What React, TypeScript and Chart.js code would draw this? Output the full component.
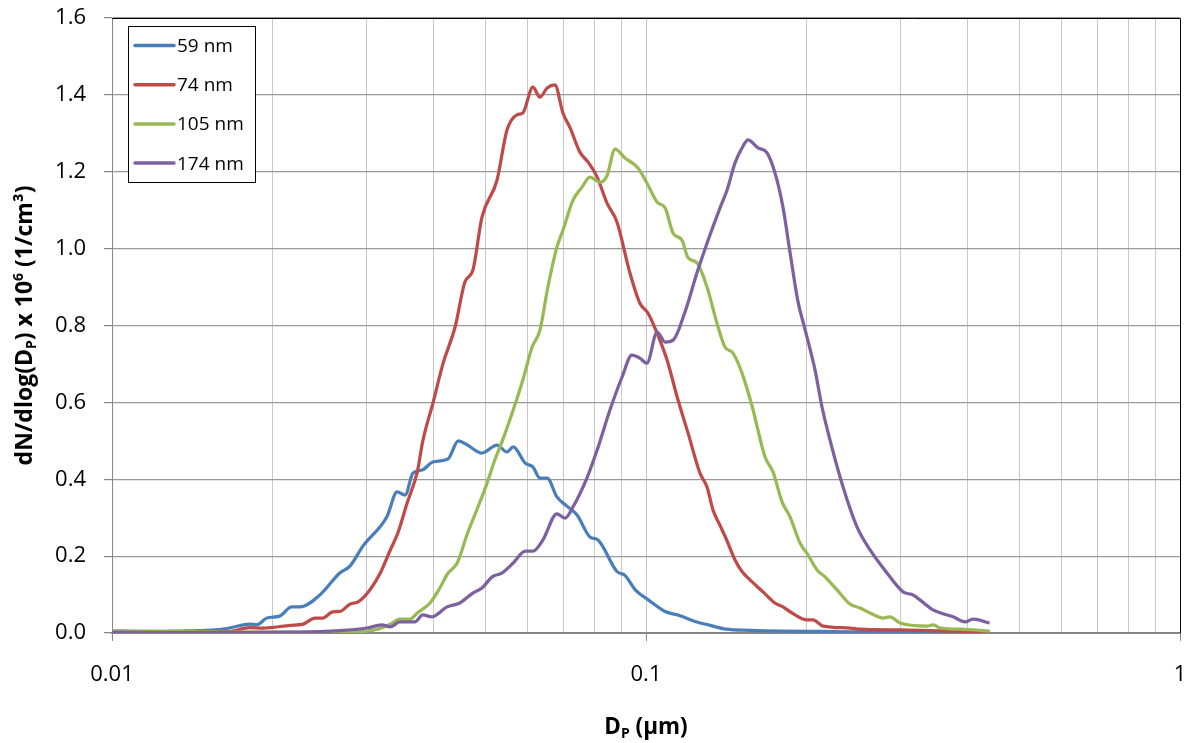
import React, { useEffect, useRef } from "react";
import { Chart, registerables } from "chart.js";

Chart.register(...registerables);

const FONT = "'Open Sans', 'Liberation Sans', sans-serif";

const seriesLabels = ["59 nm", "74 nm", "105 nm", "174 nm"];
const seriesColors = ["#4A7EBB", "#BE4B48", "#98B954", "#7D60A0"];

// Diameters in µm, concentrations dN/dlog(Dp) x 10^6 (1/cm³)
const diam59 = [0.0100, 0.0113, 0.0123, 0.0134, 0.0146, 0.0156, 0.0166, 0.0181, 0.0187, 0.0195, 0.0206, 0.0217, 0.0225, 0.0245, 0.0267, 0.0279, 0.0295, 0.0327, 0.0342, 0.0354, 0.0366, 0.0381, 0.0399, 0.0426, 0.0445, 0.0464, 0.0493, 0.0526, 0.0549, 0.0564, 0.0594, 0.0614, 0.0633, 0.0653, 0.0681, 0.0711, 0.0743, 0.0785, 0.0813, 0.0882, 0.0913, 0.0958, 0.1013, 0.1086, 0.1158, 0.1235, 0.1318, 0.1412, 0.1566, 0.1782, 0.2118, 0.2517, 0.299, 0.3554, 0.44];
const conc59 = [0.005, 0.004, 0.004, 0.005, 0.006, 0.008, 0.013, 0.023, 0.022, 0.039, 0.044, 0.068, 0.068, 0.099, 0.156, 0.174, 0.226, 0.302, 0.367, 0.359, 0.416, 0.424, 0.445, 0.453, 0.500, 0.488, 0.468, 0.489, 0.471, 0.484, 0.442, 0.432, 0.403, 0.403, 0.354, 0.330, 0.307, 0.250, 0.242, 0.160, 0.150, 0.110, 0.085, 0.056, 0.045, 0.030, 0.020, 0.010, 0.007, 0.005, 0.004, 0.003, 0.003, 0.002, 0.002];

const diam74 = [0.0100, 0.0118, 0.0140, 0.0166, 0.0181, 0.0192, 0.0216, 0.0228, 0.0240, 0.0248, 0.0259, 0.0267, 0.0279, 0.0289, 0.0304, 0.0318, 0.0332, 0.0343, 0.0357, 0.0373, 0.0382, 0.0399, 0.0417, 0.0439, 0.0458, 0.0474, 0.0493, 0.0526, 0.0549, 0.0573, 0.0588, 0.0614, 0.0633, 0.0653, 0.0675, 0.0699, 0.0721, 0.0752, 0.0779, 0.0810, 0.0845, 0.0882, 0.0933, 0.0974, 0.1009, 0.1049, 0.1095, 0.1148, 0.1199, 0.1262, 0.1301, 0.1335, 0.1376, 0.1418, 0.1468, 0.1513, 0.1566, 0.1656, 0.1744, 0.1805, 0.1877, 0.2002, 0.2055, 0.2146, 0.241, 0.2517, 0.299, 0.371, 0.44];
const conc74 = [0.002, 0.002, 0.003, 0.004, 0.014, 0.013, 0.020, 0.023, 0.039, 0.039, 0.055, 0.056, 0.075, 0.081, 0.112, 0.156, 0.216, 0.260, 0.338, 0.419, 0.500, 0.598, 0.702, 0.796, 0.913, 0.944, 1.082, 1.178, 1.308, 1.348, 1.353, 1.420, 1.394, 1.418, 1.426, 1.353, 1.314, 1.251, 1.225, 1.186, 1.119, 1.070, 0.937, 0.858, 0.832, 0.780, 0.710, 0.606, 0.520, 0.416, 0.380, 0.320, 0.280, 0.240, 0.190, 0.160, 0.138, 0.107, 0.078, 0.068, 0.052, 0.034, 0.034, 0.018, 0.013, 0.010, 0.008, 0.005, 0.003];

const diam105 = [0.0100, 0.0118, 0.0146, 0.0181, 0.0225, 0.0267, 0.0300, 0.0318, 0.0332, 0.0346, 0.0361, 0.0373, 0.0394, 0.0411, 0.0426, 0.0443, 0.0462, 0.0483, 0.0504, 0.0521, 0.0540, 0.0564, 0.0588, 0.0612, 0.0633, 0.0655, 0.0681, 0.0699, 0.0730, 0.0759, 0.0785, 0.0820, 0.0845, 0.0875, 0.0913, 0.0966, 0.1009, 0.1049, 0.1086, 0.1124, 0.1168, 0.1199, 0.1246, 0.1301, 0.1358, 0.1406, 0.1455, 0.1513, 0.1580, 0.1671, 0.1729, 0.1798, 0.1861, 0.1943, 0.2011, 0.2091, 0.2164, 0.2279, 0.241, 0.2517, 0.2628, 0.2779, 0.2864, 0.299, 0.336, 0.3448, 0.3554, 0.3874, 0.44];
const conc105 = [0.005, 0.004, 0.003, 0.002, 0.002, 0.003, 0.005, 0.012, 0.023, 0.036, 0.036, 0.052, 0.078, 0.117, 0.156, 0.182, 0.255, 0.323, 0.390, 0.450, 0.505, 0.580, 0.658, 0.744, 0.788, 0.900, 1.004, 1.048, 1.126, 1.160, 1.186, 1.173, 1.189, 1.259, 1.236, 1.210, 1.165, 1.121, 1.106, 1.040, 1.022, 0.976, 0.963, 0.900, 0.806, 0.744, 0.728, 0.676, 0.590, 0.458, 0.419, 0.341, 0.302, 0.234, 0.203, 0.164, 0.146, 0.112, 0.075, 0.065, 0.052, 0.039, 0.042, 0.026, 0.018, 0.021, 0.013, 0.010, 0.005];

const diam174 = [0.0100, 0.0146, 0.0225, 0.0267, 0.0300, 0.0320, 0.0332, 0.0346, 0.0369, 0.0382, 0.0397, 0.0424, 0.0448, 0.0474, 0.0493, 0.0515, 0.0537, 0.0564, 0.0594, 0.0614, 0.0641, 0.0681, 0.0705, 0.0730, 0.0775, 0.0810, 0.0856, 0.0902, 0.0941, 0.0974, 0.1004, 0.1049, 0.1086, 0.1124, 0.1183, 0.1246, 0.1301, 0.1376, 0.1418, 0.1468, 0.1520, 0.1552, 0.1621, 0.1685, 0.1744, 0.1805, 0.1861, 0.1926, 0.1985, 0.2073, 0.2136, 0.2211, 0.2339, 0.2484, 0.2628, 0.2827, 0.303, 0.3163, 0.3448, 0.3759, 0.3958, 0.4097, 0.44];
const conc174 = [0.002, 0.001, 0.002, 0.006, 0.013, 0.021, 0.016, 0.029, 0.029, 0.047, 0.042, 0.068, 0.078, 0.104, 0.117, 0.146, 0.156, 0.182, 0.213, 0.213, 0.242, 0.310, 0.299, 0.328, 0.403, 0.476, 0.580, 0.666, 0.723, 0.715, 0.702, 0.783, 0.757, 0.762, 0.835, 0.937, 1.014, 1.106, 1.152, 1.223, 1.267, 1.283, 1.262, 1.249, 1.197, 1.108, 0.990, 0.862, 0.790, 0.684, 0.588, 0.502, 0.380, 0.276, 0.216, 0.156, 0.107, 0.099, 0.060, 0.042, 0.029, 0.036, 0.026];

const seriesDiams = [diam59, diam74, diam105, diam174];
const seriesConcs = [conc59, conc74, conc105, conc174];

// Axis ticks
const xGridValues = [0.01, 0.02, 0.03, 0.04, 0.05, 0.06, 0.07, 0.08, 0.09, 0.1, 0.2, 0.3, 0.4, 0.5, 0.6, 0.7, 0.8, 0.9, 1];
const xMajorValues = [0.01, 0.1, 1];
const xMajorLabels = ["0.01", "0.1", "1"];
const yMin = 0;
const yMax = 1.6;
const yStep = 0.2;

type Seg = { text: string; shift?: "sub" | "sup" };
const yTitle: Seg[] = [
  { text: "dN/dlog(D" },
  { text: "P", shift: "sub" },
  { text: ") x 10" },
  { text: "6", shift: "sup" },
  { text: " (1/cm³)" },
];
const xTitle: Seg[] = [{ text: "D" }, { text: "P", shift: "sub" }, { text: " (µm)" }];

function drawRich(ctx: CanvasRenderingContext2D, segs: Seg[], cx: number, cy: number, rot: number, size: number) {
  ctx.save();
  ctx.translate(cx, cy);
  ctx.rotate(rot);
  const small = Math.round(size * 0.62);
  const widths = segs.map((s) => {
    ctx.font = `bold ${s.shift ? small : size}px ${FONT}`;
    return ctx.measureText(s.text).width;
  });
  const total = widths.reduce((a, b) => a + b, 0);
  let x = -total / 2;
  ctx.textAlign = "left";
  ctx.textBaseline = "alphabetic";
  ctx.fillStyle = "#000";
  const base = size * 0.36;
  segs.forEach((s, i) => {
    ctx.font = `bold ${s.shift ? small : size}px ${FONT}`;
    const dy = s.shift === "sub" ? size * 0.18 : s.shift === "sup" ? -size * 0.4 : 0;
    ctx.fillText(s.text, x, base + dy);
    x += widths[i];
  });
  ctx.restore();
}

const decorPlugin = {
  id: "decor",
  beforeDatasetsDraw(chart: any) {
    const { ctx, chartArea } = chart;
    ctx.save();
    ctx.strokeStyle = "#000";
    ctx.lineWidth = 1;
    ctx.beginPath();
    ctx.moveTo(chartArea.left, chartArea.top + 0.5);
    ctx.lineTo(chartArea.right + 0.5, chartArea.top + 0.5);
    ctx.lineTo(chartArea.right + 0.5, chartArea.bottom);
    ctx.stroke();
    ctx.restore();
  },
  afterDraw(chart: any) {
    const { ctx, chartArea } = chart;
    // legend
    const lx = chartArea.left + 16;
    const ly = chartArea.top + 8;
    const lw = 127;
    const lh = 156;
    ctx.save();
    ctx.fillStyle = "#fff";
    ctx.fillRect(lx, ly, lw, lh);
    ctx.strokeStyle = "#000";
    ctx.lineWidth = 1;
    ctx.strokeRect(lx + 0.5, ly + 0.5, lw, lh);
    chart.data.datasets.forEach((ds: any, i: number) => {
      const y = ly + 19.5 + i * 39.2;
      ctx.strokeStyle = ds.borderColor;
      ctx.lineWidth = 3.5;
      ctx.lineCap = "round";
      ctx.beginPath();
      ctx.moveTo(lx + 7, y);
      ctx.lineTo(lx + 46, y);
      ctx.stroke();
      ctx.fillStyle = "#000";
      ctx.font = `19px ${FONT}`;
      ctx.textAlign = "left";
      ctx.textBaseline = "middle";
      ctx.fillText(ds.label, lx + 49, y + 1);
    });
    ctx.restore();
    // axis titles
    drawRich(ctx, yTitle, 24, (chartArea.top + chartArea.bottom) / 2, -Math.PI / 2, 23);
    drawRich(ctx, xTitle, (chartArea.left + chartArea.right) / 2, 726, 0, 22.5);
  },
};

export default function App() {
  const canvasRef = useRef<HTMLCanvasElement | null>(null);

  useEffect(() => {
    if (!canvasRef.current) return;
    const datasets = seriesLabels.map((label, i) => {
      const d = seriesDiams[i];
      const v = seriesConcs[i];
      const n = Math.min(d.length, v.length);
      const pts = [] as { x: number; y: number }[];
      for (let k = 0; k < n; k++) pts.push({ x: d[k], y: v[k] });
      return {
        label,
        data: pts,
        borderColor: seriesColors[i],
        backgroundColor: seriesColors[i],
        borderWidth: 3.25,
        pointRadius: 0,
        fill: false,
        cubicInterpolationMode: "monotone" as const,
        order: seriesLabels.length - i,
      };
    });

    const chart = new Chart(canvasRef.current, {
      type: "line",
      data: { datasets },
      plugins: [decorPlugin],
      options: {
        animation: false,
        responsive: false,
        parsing: false as any,
        layout: { padding: { left: 0, top: 18, right: 15, bottom: 0 } },
        plugins: { legend: { display: false }, tooltip: { enabled: false } },
        scales: {
          x: {
            type: "logarithmic",
            min: 0.01,
            max: 1,
            afterBuildTicks: (scale: any) => {
              scale.ticks = xGridValues.map((v) => ({ value: v, major: xMajorValues.includes(v) }));
            },
            afterFit: (scale: any) => {
              scale.height = 110;
              scale.paddingLeft = 0;
              scale.paddingRight = 0;
            },
            ticks: {
              autoSkip: false,
              maxRotation: 0,
              minRotation: 0,
              padding: 21,
              color: "#000",
              font: { family: FONT, size: 22 },
              callback: (value: any) => {
                const idx = xMajorValues.findIndex((m) => Math.abs(m - Number(value)) < 1e-9);
                return idx >= 0 ? xMajorLabels[idx] : "";
              },
            },
            grid: {
              color: "#C8C8C8",
              lineWidth: 1,
              tickLength: 8,
              tickColor: (c: any) =>
                c.tick && xMajorValues.some((m) => Math.abs(m - c.tick.value) < 1e-9) ? "#868686" : "rgba(0,0,0,0)",
            },
            border: { color: "#868686", width: 2 },
          },
          y: {
            type: "linear",
            min: yMin,
            max: yMax,
            afterFit: (scale: any) => {
              scale.width = 112;
              scale.paddingTop = 0;
              scale.paddingBottom = 0;
            },
            ticks: {
              stepSize: yStep,
              padding: 18,
              color: "#000",
              font: { family: FONT, size: 22 },
              callback: (value: any) => Number(value).toFixed(1),
            },
            grid: {
              color: "#999999",
              lineWidth: 1.2,
              tickLength: 8,
              tickColor: "#868686",
            },
            border: { color: "#868686", width: 1 },
          },
        },
      },
    });
    return () => chart.destroy();
  }, []);

  return (
    <div style={{ position: "absolute", left: 0, top: 0, width: 1195, height: 743, background: "#fff" }}>
      <canvas ref={canvasRef} width={1195} height={743} style={{ display: "block" }} />
    </div>
  );
}
